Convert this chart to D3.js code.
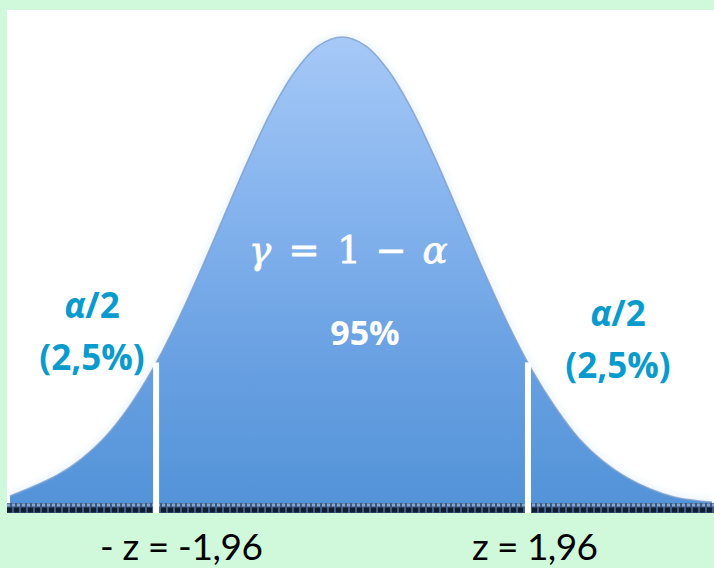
<!DOCTYPE html>
<html>
<head>
<meta charset="utf-8">
<script src="https://cdn.jsdelivr.net/npm/d3@7"></script>
<style>
  html, body { margin: 0; padding: 0; background: #cff9da; }
  svg { display: block; }
</style>
</head>
<body>
<svg id="chart" width="714" height="568"></svg>
<script>
// ---- data ----
const zValues = [-3.5, -3.25, -3.0, -2.75, -2.5, -2.25, -2.0, -1.75, -1.5, -1.25, -1.0, -0.75, -0.5, -0.25, 0,
                 0.25, 0.5, 0.75, 1.0, 1.25, 1.5, 1.75, 2.0, 2.25, 2.5, 2.75, 3.0, 3.25, 3.5, 3.75, 3.9];
const heights = [0.015, 0.036, 0.060, 0.094, 0.141, 0.205, 0.286, 0.384, 0.495, 0.613, 0.731, 0.839, 0.925, 0.981, 1.0,
                 0.981, 0.925, 0.839, 0.731, 0.613, 0.495, 0.384, 0.286, 0.205, 0.138, 0.090, 0.055, 0.030, 0.013, 0.005, 0.002];
const cutoffs = [-1.96, 1.96];
const cutoffLabels = ["- z = -1,96", "z = 1,96"];
const tailLabels = ["α/2", "(2,5%)"];
const formulaGlyphs = ["γ", "=", "1", "−", "α"];
const formulaItalic = [true, false, false, false, true];
const centerPercent = "95%";

// ---- layout ----
const svg = d3.select("#chart");
const W = 714, H = 568;
const x = d3.scaleLinear().domain([-3.5, 3.9]).range([10, 712]);
const y = d3.scaleLinear().domain([0, 1]).range([503, 37]);
const pts = zValues.map((z, i) => ({ z, h: heights[i] }));

// green background + white panel
svg.append("rect").attr("width", W).attr("height", H).attr("fill", "#cff9da");
svg.append("rect").attr("x", 7).attr("y", 10).attr("width", W - 7).attr("height", 503).attr("fill", "#ffffff");

// gradient
const defs = svg.append("defs");
const grad = defs.append("linearGradient").attr("id", "bellGrad")
  .attr("gradientUnits", "userSpaceOnUse")
  .attr("x1", 0).attr("y1", 37).attr("x2", 0).attr("y2", 505);
grad.append("stop").attr("offset", "0%").attr("stop-color", "#a6c9f7");
grad.append("stop").attr("offset", "35%").attr("stop-color", "#86b4ee");
grad.append("stop").attr("offset", "70%").attr("stop-color", "#68a0e2");
grad.append("stop").attr("offset", "100%").attr("stop-color", "#5393d8");

const glow = defs.append("filter").attr("id", "glow").attr("x", "-10%").attr("y", "-10%").attr("width", "120%").attr("height", "120%");
glow.append("feGaussianBlur").attr("stdDeviation", 3);

const area = d3.area()
  .x(d => x(d.z))
  .y0(y(0) + 3)
  .y1(d => y(d.h))
  .curve(d3.curveCatmullRom.alpha(0.5));
const line = d3.line()
  .x(d => x(d.z))
  .y(d => y(d.h))
  .curve(d3.curveCatmullRom.alpha(0.5));

// soft halo
svg.append("path").datum(pts).attr("d", line)
  .attr("fill", "none").attr("stroke", "#eef6ff").attr("stroke-width", 8).attr("filter", "url(#glow)");
svg.append("path").datum(pts).attr("d", area).attr("fill", "url(#bellGrad)");
svg.append("path").datum(pts).attr("d", line)
  .attr("fill", "none").attr("stroke", "#7f9fce").attr("stroke-width", 1.6).attr("opacity", 0.8);

// baseline (dotted band)
svg.append("rect").attr("x", 7).attr("y", 503).attr("width", W - 7).attr("height", 10).attr("fill", "#3d5a82");
svg.append("line").attr("x1", 7).attr("x2", W).attr("y1", 505).attr("y2", 505)
  .attr("stroke", "#86a6cf").attr("stroke-width", 3).attr("stroke-dasharray", "3 2");
svg.append("line").attr("x1", 7).attr("x2", W).attr("y1", 510).attr("y2", 510)
  .attr("stroke", "#101c30").attr("stroke-width", 5).attr("stroke-dasharray", "5 2");

// cutoff white lines
const hAt = z => {
  const i = d3.bisector(d => d.z).left(pts, z);
  const a = pts[i - 1], b = pts[i];
  const t = (z - a.z) / (b.z - a.z);
  return a.h + t * (b.h - a.h);
};
svg.selectAll("rect.cut").data(cutoffs).join("rect").attr("class", "cut")
  .attr("x", d => x(d) - 3)
  .attr("width", 6)
  .attr("y", d => y(hAt(d)))
  .attr("height", d => 513 - y(hAt(d)))
  .attr("fill", "#ffffff");

// center formula: one text, glyph chunks placed at measured centres
const glyphX = [260, 304, 349, 391, 435];
const f = svg.append("text")
  .attr("y", 263)
  .attr("text-anchor", "middle")
  .attr("font-family", "'DejaVu Serif', 'Liberation Serif', serif")
  .attr("font-size", 37).attr("fill", "#ffffff")
  .attr("stroke", "#ffffff").attr("stroke-width", 0.8);
formulaGlyphs.forEach((g, i) => {
  f.append("tspan").attr("x", glyphX[i])
    .attr("font-style", formulaItalic[i] ? "italic" : "normal")
    .text(g);
});

svg.append("text").attr("x", 365).attr("y", 345).attr("text-anchor", "middle")
  .attr("font-family", "'Open Sans', Lato, sans-serif").attr("font-weight", 700)
  .attr("font-size", 34).attr("fill", "#ffffff").text(centerPercent);

// tail labels
const tails = [{ cx: 92, by: 318 }, { cx: 618, by: 326 }];
tails.forEach(t => {
  const a = svg.append("text").attr("x", t.cx).attr("y", t.by).attr("text-anchor", "middle")
    .attr("font-family", "'Open Sans', Lato, sans-serif").attr("font-weight", 700)
    .attr("font-size", 35).attr("fill", "#0a9bce");
  a.append("tspan").attr("font-style", "italic").text(tailLabels[0].charAt(0));
  a.append("tspan").text(tailLabels[0].slice(1));
  svg.append("text").attr("x", t.cx).attr("y", t.by + 52).attr("text-anchor", "middle")
    .attr("font-family", "'Open Sans', Lato, sans-serif").attr("font-weight", 700)
    .attr("font-size", 35).attr("fill", "#0a9bce").text(tailLabels[1]);
});

// bottom labels
const bottomPos = [{ x0: 100, w: 163 }, { x0: 472, w: 126 }];
svg.selectAll("text.cutlab").data(cutoffLabels).join("text").attr("class", "cutlab")
  .attr("x", (d, i) => bottomPos[i].x0).attr("y", 560)
  .attr("textLength", (d, i) => bottomPos[i].w).attr("lengthAdjust", "spacing")
  .attr("font-family", "Lato, 'Open Sans', sans-serif")
  .attr("font-size", 37).attr("fill", "#000000").text(d => d);
</script>
</body>
</html>
